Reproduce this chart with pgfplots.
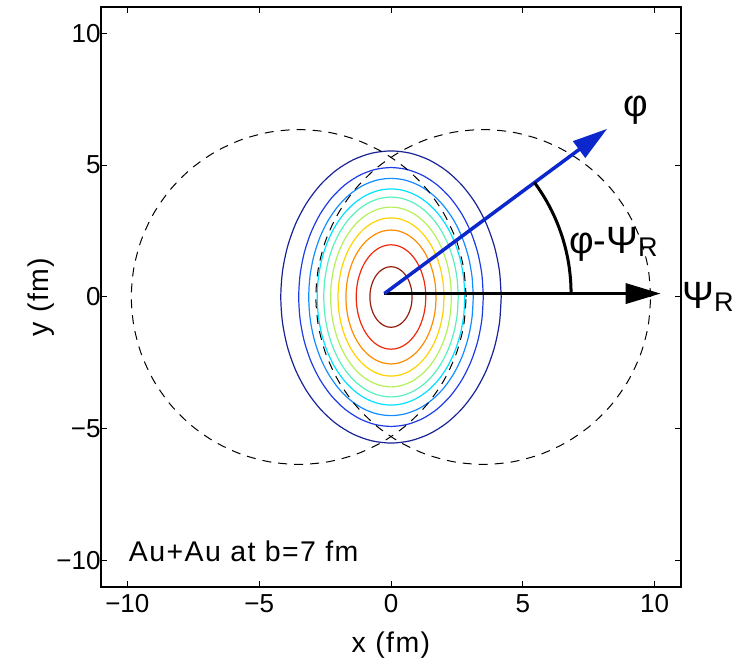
\documentclass[border=0pt]{standalone}
\usepackage{fontspec}
\setmainfont{Liberation Sans}
\newfontfamily\widefont[LetterSpace=5]{Liberation Sans}
\usepackage{pgfplots}
\pgfplotsset{compat=1.18}
\usepackage{pgfplotstable}
\usetikzlibrary{arrows.meta}

% points on the unit circle, every 10 degrees (closed)
\pgfplotstableread{
c s
1.0000 0.0000
0.9848 0.1736
0.9397 0.3420
0.8660 0.5000
0.7660 0.6428
0.6428 0.7660
0.5000 0.8660
0.3420 0.9397
0.1736 0.9848
0.0000 1.0000
-0.1736 0.9848
-0.3420 0.9397
-0.5000 0.8660
-0.6428 0.7660
-0.7660 0.6428
-0.8660 0.5000
-0.9397 0.3420
-0.9848 0.1736
-1.0000 0.0000
-0.9848 -0.1736
-0.9397 -0.3420
-0.8660 -0.5000
-0.7660 -0.6428
-0.6428 -0.7660
-0.5000 -0.8660
-0.3420 -0.9397
-0.1736 -0.9848
0.0000 -1.0000
0.1736 -0.9848
0.3420 -0.9397
0.5000 -0.8660
0.6428 -0.7660
0.7660 -0.6428
0.8660 -0.5000
0.9397 -0.3420
0.9848 -0.1736
1.0000 0.0000
}\unitcircle

% contour level colours (jet)
\definecolor{lv1}{RGB}{25,35,150}
\definecolor{lv2}{RGB}{30,60,230}
\definecolor{lv3}{RGB}{20,140,255}
\definecolor{lv4}{RGB}{0,225,255}
\definecolor{lv5}{RGB}{90,240,190}
\definecolor{lv6}{RGB}{180,240,90}
\definecolor{lv7}{RGB}{255,210,0}
\definecolor{lv8}{RGB}{255,140,0}
\definecolor{lv9}{RGB}{240,40,10}
\definecolor{lv10}{RGB}{150,30,15}
\definecolor{phiblue}{RGB}{12,40,205}

% contour of the overlap density: semi-axes a (x) and b (y) in fm
\newcommand{\contour}[3]{%
  \addplot[#1, line width=1.2pt, smooth]
    table[x expr=#2*\thisrow{c}, y expr=#3*\thisrow{s}] {\unitcircle};}
% nucleus outline: centre x0 and radius R in fm
\newcommand{\nucleus}[2]{%
  \addplot[black, line width=1pt, dash pattern=on 9pt off 7pt, smooth]
    table[x expr=#1+#2*\thisrow{c}, y expr=#2*\thisrow{s}] {\unitcircle};}

\begin{document}
\begin{tikzpicture}
\begin{axis}[
  name=ax,
  scale only axis,
  width=580pt, height=580pt,
  xmin=-11, xmax=11, ymin=-11, ymax=11,
  xtick={-10,-5,0,5,10}, ytick={-10,-5,0,5,10},
  xticklabels={−10,−5,0,5,10},
  yticklabels={−10,−5,0,5,10},
  tick align=inside,
  major tick length=6pt,
  axis line style={line width=1.2pt},
  every tick/.style={black, line width=1pt},
  tick label style={font=\fontsize{26}{26}\selectfont},
  xticklabel style={yshift=-4pt},
  yticklabel style={xshift=3pt},
  xlabel={x (fm)}, ylabel={y (fm)},
  every axis x label/.style={at={(axis description cs:0.5,-0.1)}, anchor=center,
    font=\widefont\fontsize{28.5}{28.5}\selectfont},
  every axis y label/.style={at={(axis description cs:-0.1034,0.5)}, anchor=center, rotate=90,
    font=\widefont\fontsize{28.5}{28.5}\selectfont},
  clip=false,
]
\contour{lv1}{4.18}{5.54}
\contour{lv2}{3.50}{4.91}
\contour{lv3}{3.12}{4.50}
\contour{lv4}{2.80}{4.10}
\contour{lv5}{2.55}{3.79}
\contour{lv6}{2.29}{3.41}
\contour{lv7}{2.01}{3.00}
\contour{lv8}{1.71}{2.54}
\contour{lv9}{1.32}{1.98}
\contour{lv10}{0.80}{1.15}

\nucleus{-3.5}{6.35}
\nucleus{3.5}{6.35}

% reaction plane and particle direction
\draw[line width=3.5pt, -{Triangle[length=35pt,width=20pt]}]
  (axis cs:-0.25,0.13) -- (axis cs:10.23,0.13);
\draw[phiblue, line width=3.5pt, -{Triangle[length=35pt,width=20pt]}]
  (axis cs:-0.25,0.13) -- (axis cs:8.2,6.38);
\draw[line width=3pt] (axis cs:6.83,0.13) arc[start angle=0, end angle=36.5, radius=186.7pt];

\node[anchor=base west, inner sep=0, font=\fontsize{38}{38}\selectfont]
  at (axis cs:8.8,6.85) {φ};
\node[anchor=base west, inner sep=0, font=\fontsize{38}{38}\selectfont]
  at (axis cs:6.75,1.65) {φ-Ψ{\fontsize{27}{27}\selectfont\raisebox{-3pt}{R}}};
\node[anchor=base west, inner sep=0, font=\fontsize{38}{38}\selectfont]
  at (axis cs:11.04,-0.43) {Ψ{\fontsize{27}{27}\selectfont\raisebox{-3pt}{R}}};
\node[anchor=base west, inner sep=0, font=\widefont\fontsize{28.5}{28.5}\selectfont]
  at (axis cs:-9.95,-10.05) {Au+Au at b=7 fm};
\end{axis}
\pgfresetboundingbox
\path ([shift={(-101pt,-73pt)}]ax.south west) rectangle ([shift={(54pt,7pt)}]ax.north east);
\end{tikzpicture}
\end{document}
